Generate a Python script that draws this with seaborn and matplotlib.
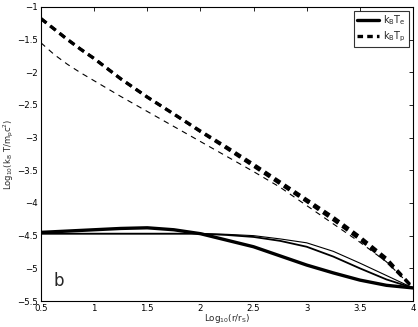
import numpy as np
import pandas as pd
import matplotlib
matplotlib.use("Agg")
import matplotlib.pyplot as plt
import seaborn as sns
from matplotlib.lines import Line2D

# ---- data ----
x = [0.5, 0.625, 0.75, 0.875, 1.0, 1.25, 1.5, 1.75, 2.0, 2.25, 2.5, 2.75, 3.0, 3.25, 3.5, 3.75, 4.0]
te_thick = [-4.45, -4.44, -4.43, -4.42, -4.41, -4.39, -4.38, -4.41, -4.47, -4.57, -4.67, -4.81, -4.95, -5.07, -5.18, -5.26, -5.30]
te_medium = [-4.47, -4.47, -4.47, -4.47, -4.47, -4.47, -4.47, -4.47, -4.47, -4.49, -4.52, -4.58, -4.67, -4.82, -5.00, -5.17, -5.30]
te_thin = [-4.47, -4.47, -4.47, -4.47, -4.47, -4.47, -4.47, -4.47, -4.47, -4.48, -4.50, -4.55, -4.61, -4.74, -4.92, -5.11, -5.30]
tp_thick_a = [-1.18, -1.34, -1.50, -1.65, -1.79, -2.10, -2.38, -2.64, -2.90, -3.15, -3.41, -3.68, -3.95, -4.22, -4.52, -4.85, -5.30]
tp_thick_b = [-1.18, -1.34, -1.50, -1.65, -1.79, -2.10, -2.38, -2.64, -2.91, -3.17, -3.44, -3.71, -3.98, -4.26, -4.56, -4.89, -5.30]
tp_thin = [-1.55, -1.73, -1.88, -2.01, -2.13, -2.37, -2.60, -2.83, -3.06, -3.29, -3.52, -3.76, -4.04, -4.32, -4.60, -4.90, -5.30]

xticks = [0.5, 1, 1.5, 2, 2.5, 3, 3.5, 4]
yticks = [-1, -1.5, -2, -2.5, -3, -3.5, -4, -4.5, -5, -5.5]
legend_labels = [r"$\mathregular{k_BT_e}$", r"$\mathregular{k_BT_p}$"]

df = pd.DataFrame({"x": x, "te_thick": te_thick, "te_medium": te_medium, "te_thin": te_thin,
                   "tp_thick_a": tp_thick_a, "tp_thick_b": tp_thick_b, "tp_thin": tp_thin})

sns.set_theme(style="white")
plt.rcParams["font.family"] = ["DejaVu Sans"]
plt.rcParams["lines.scale_dashes"] = False
plt.rcParams["axes.unicode_minus"] = True

fig = plt.figure(figsize=(4.18, 3.27), dpi=100)
ax = fig.add_axes([0.098, 0.0795, 0.89, 0.8995])

sns.lineplot(data=df, x="x", y="te_thick", ax=ax, color="black", lw=2.4)
sns.lineplot(data=df, x="x", y="te_medium", ax=ax, color="black", lw=1.3)
sns.lineplot(data=df, x="x", y="te_thin", ax=ax, color="black", lw=0.8)
sns.lineplot(data=df, x="x", y="tp_thick_a", ax=ax, color="black", lw=2.4)
ax.lines[-1].set_dashes((5, 3.5))
sns.lineplot(data=df, x="x", y="tp_thick_b", ax=ax, color="black", lw=2.0)
ax.lines[-1].set_dashes((5, 3.5))
sns.lineplot(data=df, x="x", y="tp_thin", ax=ax, color="black", lw=0.8)
ax.lines[-1].set_dashes((4, 3.5))

ax.set_xlim(0.5, 4)
ax.set_ylim(-5.5, -1)
ax.set_xticks(xticks)
ax.set_xticklabels([f"{t:g}" for t in xticks])
ax.set_yticks(yticks)
ax.set_yticklabels([f"{t:g}".replace("-", "\u2212") for t in yticks])
ax.tick_params(direction="in", length=3, width=0.6, top=True, right=True,
               labelsize=6.2, pad=2, colors="black")
for s in ax.spines.values():
    s.set_color("black")
    s.set_linewidth(0.8)

ax.set_xlabel(r"$\mathregular{Log_{10}(r/r_S)}$", fontsize=6.3)
ax.set_ylabel(r"$\mathregular{Log_{10}(k_B\ T/m_pc^2)}$", fontsize=6.0)
ax.xaxis.set_label_coords(0.5, -0.036)
ax.yaxis.set_label_coords(-0.066, 0.5)
ax.text(0.67, -5.2, "b", fontsize=12, ha="center", va="center")

handles = [Line2D([], [], color="black", lw=2.4),
           Line2D([], [], color="black", lw=2.4, dashes=(4, 3))]
leg = ax.legend(handles, legend_labels, loc="upper right", fontsize=7, frameon=True,
                fancybox=False, edgecolor="black", handlelength=2.2, borderpad=0.3,
                labelspacing=0.2, handletextpad=0.5, borderaxespad=0.4)
leg.get_frame().set_linewidth(0.8)

fig.savefig("out.png", dpi=100)
